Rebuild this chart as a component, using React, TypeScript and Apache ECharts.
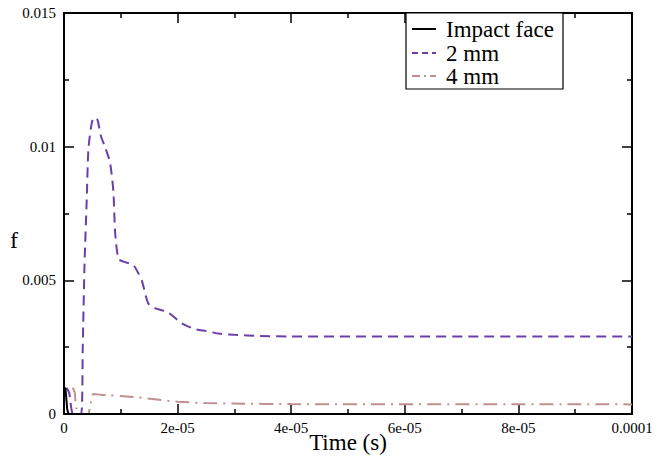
import React, { useEffect, useRef } from "react";
import * as echarts from "echarts";

// time in microseconds, f values
const impactT = [0, 0.25, 0.4, 0.55, 0.8, 100];
const impactF = [0.001, 0.00095, 0.0006, 0.0002, 0, 0];

const mm2T = [0.45, 0.9, 1.1, 1.3, 1.6, 3.0, 3.3, 3.6, 4.0, 4.3, 4.9, 5.4, 5.9, 6.5, 7.2, 8.1, 8.7, 9.0, 9.6, 10.5, 12.2, 13.0, 13.7, 14.8, 16.0, 18.3, 20.7, 23.0, 25.0, 27.5, 30.0, 34.5, 40.0, 100];
const mm2F = [0.00098, 0.0008, 0.0005, 0.0002, 0, 0, 0.0025, 0.0055, 0.008, 0.0099, 0.0109, 0.0111, 0.011, 0.0104, 0.01, 0.0094, 0.0083, 0.0068, 0.0058, 0.0057, 0.00557, 0.0053, 0.005, 0.00415, 0.00396, 0.0038, 0.0034, 0.00318, 0.0031, 0.003, 0.00296, 0.00292, 0.0029, 0.0029];

const mm4T = [1.55, 1.9, 2.0, 2.2, 2.5, 4.2, 4.6, 5.2, 6.5, 8.0, 10.0, 13.0, 16.0, 20.0, 25.0, 30.0, 40.0, 100];
const mm4F = [0.00098, 0.0008, 0.0005, 0.0002, 0, 0, 0.0003, 0.00075, 0.00072, 0.0007, 0.00067, 0.00062, 0.00055, 0.00046, 0.00041, 0.00039, 0.00037, 0.00036];

const seriesNames = ["Impact face", "2 mm", "4 mm"];
const seriesColors = ["#000000", "#6a3fa8", "#c09090"];
const xTickLabels = ["0", "2e-05", "4e-05", "6e-05", "8e-05", "0.0001"];
const yTickLabels = ["0", "0.005", "0.01", "0.015"];
const xTitle = "Time (s)";
const yTitle = "f";

const FONT = "'Liberation Serif', 'Times New Roman', 'DejaVu Serif', serif";

function pairs(t: number[], f: number[]) {
  return t.map((v, i) => [v * 1e-6, f[i]]);
}

export default function App() {
  const ref = useRef<HTMLDivElement>(null);
  useEffect(() => {
    if (!ref.current) return;
    const chart = echarts.init(ref.current, undefined, { renderer: "svg" });
    const W = 657, H = 460;
    const gl = 64, gr = 25, gt = 13, gb = 46;
    const pw = W - gl - gr, ph = H - gt - gb;

    const lineOn = { show: true, onZero: false, lineStyle: { color: "#000", width: 2 } };
    const lineOff = { show: false, onZero: false };
    const tickOn = { show: true, inside: false, length: 10, lineStyle: { color: "#000", width: 1.5 } };
    const minorOn = { show: true, splitNumber: 2, length: 5, lineStyle: { color: "#000", width: 1.5 } };
    const noTick = { show: false };
    const xFmt = (v: number) => xTickLabels[Math.round(v / 2e-5)] ?? "";
    const yFmt = (v: number) => yTickLabels[Math.round(v / 0.005)] ?? "";
    const lineTypes: any[] = ["solid", [10, 6], [14, 6, 2, 6]];
    const data = [pairs(impactT, impactF), pairs(mm2T, mm2F), pairs(mm4T, mm4F)];

    const xBase = { type: "value", min: 0, max: 1e-4, interval: 2e-5, splitLine: { show: false } };
    const yBase = { type: "value", min: 0, max: 0.015, interval: 0.005, splitLine: { show: false } };

    const lx = 406, ly = 13, lw = 157, lh = 76;
    const rowY = [29, 53, 76];
    const legendEls: any[] = [
      { type: "rect", shape: { x: lx, y: ly, width: lw, height: lh }, style: { fill: "#fff", stroke: "#000", lineWidth: 1.2 }, z: 10 },
      { type: "text", x: 14, y: 240, style: { text: yTitle, font: `24px ${FONT}`, fill: "#000", align: "center", verticalAlign: "middle" } },
    ];
    seriesNames.forEach((n, i) => {
      legendEls.push({
        type: "line",
        shape: { x1: lx + 6, y1: rowY[i], x2: lx + 30, y2: rowY[i] },
        style: { stroke: seriesColors[i], lineWidth: 2, lineDash: i === 0 ? null : (i === 1 ? [6, 4] : [8, 4, 2, 4]) },
        z: 11,
      });
      legendEls.push({
        type: "text",
        x: lx + 40,
        y: rowY[i],
        style: { text: n, font: `23px ${FONT}`, fill: "#000", verticalAlign: "middle", align: "left" },
        z: 11,
      });
    });

    chart.setOption({
      animation: false,
      backgroundColor: "#fff",
      grid: { left: gl, right: gr, top: gt, bottom: gb, containLabel: false, outerBoundsMode: "none" },
      xAxis: [
        {
          ...xBase, position: "bottom",
          axisLine: lineOn, axisTick: noTick, minorTick: noTick,
          axisLabel: { formatter: xFmt, fontFamily: FONT, fontSize: 15, color: "#000", margin: 6 },
          name: xTitle, nameLocation: "middle", nameGap: 17, nameMoveOverlap: false,
          nameTextStyle: { fontFamily: FONT, fontSize: 23, color: "#000" },
        },
        {
          ...xBase, position: "top",
          axisLine: lineOn, axisTick: noTick, minorTick: noTick, axisLabel: { show: false },
        },
        {
          // ticks pointing up from the bottom frame
          ...xBase, position: "top", offset: -ph,
          axisLine: lineOff, axisTick: tickOn, minorTick: minorOn, axisLabel: { show: false },
        },
        {
          // ticks pointing down from the top frame
          ...xBase, position: "bottom", offset: -ph,
          axisLine: lineOff, axisTick: tickOn, minorTick: minorOn, axisLabel: { show: false },
        },
      ],
      yAxis: [
        {
          ...yBase, position: "left",
          axisLine: lineOn, axisTick: noTick, minorTick: noTick,
          axisLabel: { formatter: yFmt, fontFamily: FONT, fontSize: 15, color: "#000", margin: 8 },
        },
        {
          ...yBase, position: "right",
          axisLine: lineOn, axisTick: noTick, minorTick: noTick, axisLabel: { show: false },
        },
        {
          ...yBase, position: "right", offset: -pw,
          axisLine: lineOff, axisTick: tickOn, minorTick: minorOn, axisLabel: { show: false },
        },
        {
          ...yBase, position: "left", offset: -pw,
          axisLine: lineOff, axisTick: tickOn, minorTick: minorOn, axisLabel: { show: false },
        },
      ],
      series: seriesNames.map((n, i) => ({
        name: n,
        type: "line",
        xAxisIndex: 0,
        yAxisIndex: 0,
        data: data[i],
        showSymbol: false,
        symbol: "none",
        smooth: i === 0 ? false : 0.25,
        lineStyle: { color: seriesColors[i], width: 2, type: lineTypes[i] },
        itemStyle: { color: seriesColors[i] },
        z: 3 - i,
      })),
      graphic: legendEls,
    });
    return () => chart.dispose();
  }, []);
  return <div ref={ref} style={{ position: "fixed", left: 0, top: 0, width: 657, height: 460 }} />;
}
